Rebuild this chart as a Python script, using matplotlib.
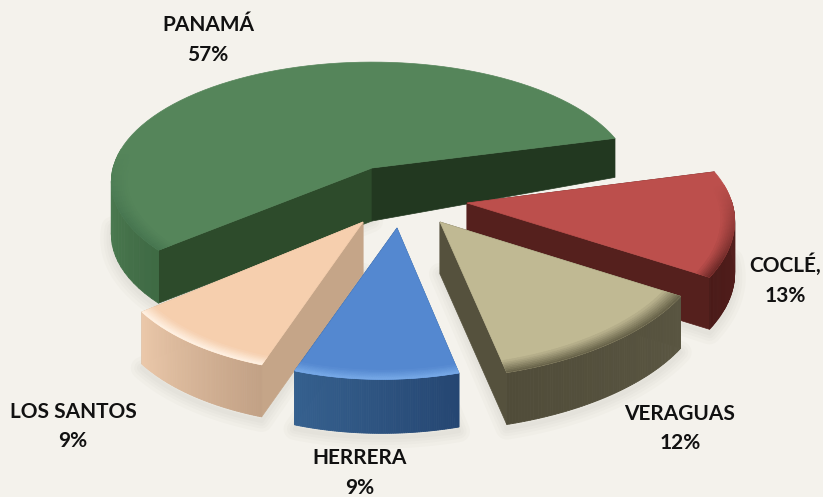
import numpy as np
import matplotlib
matplotlib.use("Agg")
import matplotlib.pyplot as plt
from matplotlib.colors import to_rgb

# Data, clockwise from the Coclé / Panamá boundary
names = ["COCLÉ,", "VERAGUAS", "HERRERA", "LOS SANTOS", "PANAMÁ"]
values = [13, 12, 9, 9, 57]

# Layout and style of each slice
apex_x = [467, 440, 397, 363, 372]
apex_y = [203, 222, 228, 222, 168]
radius_x = [265, 263, 240, 245, 259]
radius_y = [126.6, 126.6, 122, 122, 118]
persp = [0.194, 0.194, 0.194, 0.194, 0.114]
shear = [-0.113, -0.113, -0.10, -0.08, 0.0]
depth = [52, 52, 54, 52, 53]
top_col = ["#bc4f4c", "#c0b993", "#5488d0", "#f6cfae", "#55855a"]
rim_col = ["#6e2a28", "#68634a", "#78aae8", "#fff2e4", "#477650"]
rim_width = [0.05, 0.065, 0.05, 0.05, 0.06]
arc_col_near = ["#4a1a18", "#504c39", "#36618f", "#ecc9ab", "#3f6a44"]
arc_col_far = ["#5a2220", "#5a5642", "#254672", "#c2a185", "#4f8055"]
wall_hi_col = ["#55201d", "#55513d", "#36618f", "#c5a588", "#2d4b2b"]
wall_lo_col = ["#55201d", "#55513d", "#254672", "#c5a588", "#223820"]
label_x = [785, 680, 360, 73, 208]
label_y = [280, 428.5, 473, 426.5, 40]
start_angle = 15.0
draw_order = [4, 0, 3, 1, 2]
bg = "#f4f2ec"

plt.rcParams["font.family"] = ["Lato", "DejaVu Sans"]
fig = plt.figure(figsize=(8.23, 4.97), dpi=100, facecolor=bg)
ax = fig.add_axes([0, 0, 1, 1])
ax.set_xlim(0, 823)
ax.set_ylim(497, 0)
ax.axis("off")


def project(i, deg, r=1.0):
    t = np.radians(deg)
    u, v = r * np.cos(t), r * np.sin(t)
    w = 1 + persp[i] * v
    y = radius_y[i] * v / w
    x = radius_x[i] * u / w - shear[i] * y
    return apex_x[i] + x, apex_y[i] - y


def drop(i, deg, r=1.0):
    if i == 4:  # the big slice recedes toward the back
        return depth[i] - 54 * max(r * np.sin(np.radians(deg)), 0)
    return depth[i]


def mix(a, b, f):
    a, b = np.array(to_rgb(a)), np.array(to_rgb(b))
    return tuple(a + (b - a) * f)


angles = start_angle - np.cumsum([0] + [v * 3.6 for v in values])
spans = [(angles[i + 1], angles[i]) for i in range(len(values))]

for i in draw_order:
    lo, hi = spans[i]
    arc = np.linspace(lo, hi, 80)
    top = [project(i, a) for a in arc]
    x_top = [p[0] for p in top]
    y_top = [p[1] for p in top]
    y_bot = [p[1] + drop(i, a) for p, a in zip(top, arc)]
    level = draw_order.index(i) * 10

    # soft shadow under the slice
    vis = [k for k, a in enumerate(arc) if np.sin(np.radians(a)) < 0]
    sx = [x_top[k] for k in vis] + [apex_x[i]]
    sy = [y_bot[k] + 4 for k in vis] + [apex_y[i] + depth[i]]
    for lw in (16, 11, 7, 3):
        ax.fill(sx, sy, facecolor="none", edgecolor="#77756c", lw=lw, alpha=0.03,
                joinstyle="round", zorder=1 + level)

    z = 2 + level
    # straight inner walls
    for deg, col in ((hi, wall_hi_col[i]), (lo, wall_lo_col[i])):
        px, py = project(i, deg)
        ax.fill([apex_x[i], px, px, apex_x[i]],
                [apex_y[i], py, py + drop(i, deg), apex_y[i] + depth[i]],
                color=col, lw=0.5, zorder=z)
    # outer curved wall
    for k in range(len(arc) - 1):
        mid = (arc[k] + arc[k + 1]) / 2
        if np.sin(np.radians(mid)) > 0.02:
            continue
        if i == 4:
            f = (-140 - mid) / 40
        else:
            f = (mid - lo) / (hi - lo)
        c = mix(arc_col_near[i], arc_col_far[i], min(max(f, 0), 1))
        ax.fill([x_top[k], x_top[k + 1], x_top[k + 1], x_top[k]],
                [y_top[k], y_top[k + 1], y_bot[k + 1], y_bot[k]],
                color=c, lw=0.6, zorder=z + 1)
    # top face
    ax.fill([apex_x[i]] + x_top, [apex_y[i]] + y_top, color=top_col[i], lw=0.5, zorder=z + 2)
    # bevelled rim, fading out toward the back of the pie
    steps = 8
    for k in range(len(arc) - 1):
        mid = (arc[k] + arc[k + 1]) / 2
        sn = np.sin(np.radians(mid))
        strength = min(max(0.15 - sn, 0) / 0.6, 1)
        if strength == 0:
            continue
        for s in range(steps):
            r0 = 1 - rim_width[i] * s / steps
            r1 = 1 - rim_width[i] * (s + 1) / steps
            c = mix(top_col[i], rim_col[i], strength * (1 - s / steps))
            a0, a1 = project(i, arc[k], r0), project(i, arc[k + 1], r0)
            b1, b0 = project(i, arc[k + 1], r1), project(i, arc[k], r1)
            ax.fill([a0[0], a1[0], b1[0], b0[0]], [a0[1], a1[1], b1[1], b0[1]],
                    color=c, lw=0.4, zorder=z + 3)

    ax.text(label_x[i], label_y[i], f"{names[i]}\n{values[i]}%", ha="center", va="center",
            fontsize=15, fontweight="bold", color="#111111", linespacing=1.6, zorder=200)

fig.savefig("out.png", dpi=100, facecolor=bg)
